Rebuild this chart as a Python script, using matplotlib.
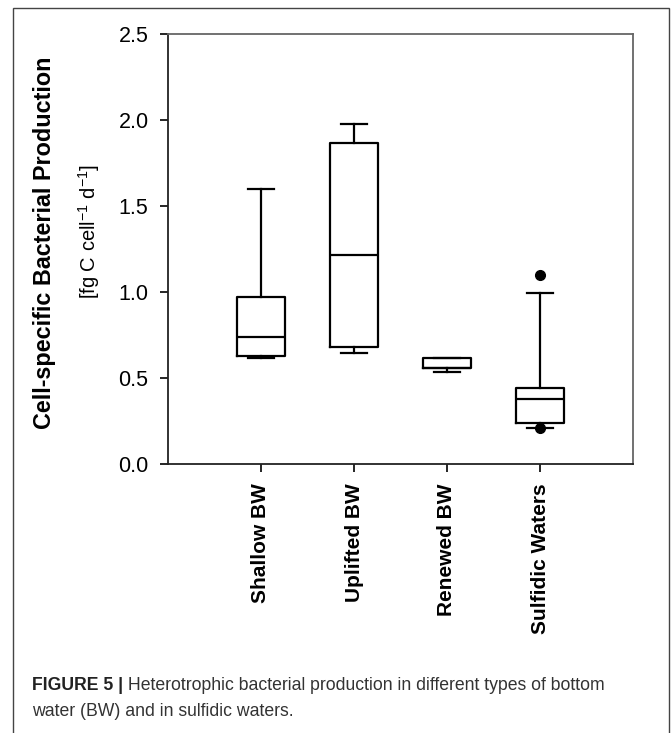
import matplotlib
matplotlib.use('Agg')
import matplotlib.pyplot as plt
from matplotlib.patches import Rectangle

# box plot summary values (10th/90th percentile whiskers, SigmaPlot style)
groups = ['Shallow BW', 'Uplifted BW', 'Renewed BW', 'Sulfidic Waters']
whis_lo = [0.614, 0.647, 0.533, 0.211]
q1 = [0.626, 0.678, 0.560, 0.237]
medians = [0.738, 1.213, 0.560, 0.378]
q3 = [0.971, 1.868, 0.614, 0.444]
whis_hi = [1.597, 1.978, 0.614, 0.996]
outliers = [[], [], [], [0.207, 1.097]]

y_ticks = [0.0, 0.5, 1.0, 1.5, 2.0, 2.5]

plt.rcParams['font.family'] = ['Liberation Sans', 'DejaVu Sans']

W, H, DPI = 672, 733, 100
fig = plt.figure(figsize=(W / DPI, H / DPI), dpi=DPI)
ax = fig.add_axes([168 / W, 1 - 464 / H, (633 - 168) / W, (464 - 34) / H])

stats = []
for i in range(len(groups)):
    stats.append({'label': groups[i], 'whislo': whis_lo[i], 'q1': q1[i],
                  'med': medians[i], 'q3': q3[i], 'whishi': whis_hi[i],
                  'fliers': outliers[i]})

lw = 1.6
ax.bxp(stats, positions=[1, 2, 3, 4], widths=0.51, capwidths=0.28,
       boxprops=dict(color='black', linewidth=lw),
       medianprops=dict(color='black', linewidth=lw),
       whiskerprops=dict(color='black', linewidth=lw),
       capprops=dict(color='black', linewidth=lw),
       flierprops=dict(marker='o', markerfacecolor='black',
                       markeredgecolor='black', markersize=7))

ax.set_xlim(0, 5)
ax.set_ylim(0, 2.5)
ax.set_yticks(y_ticks)
ax.set_yticklabels([f'{v:.1f}' for v in y_ticks], fontsize=15.5)
ax.set_xticks([1, 2, 3, 4])
ax.set_xticklabels(groups, rotation=90, fontsize=15, fontweight='bold')
ax.tick_params(axis='y', direction='out', length=6, width=1.2, pad=8)
ax.tick_params(axis='x', direction='out', length=6, width=1.2, pad=8)

for side in ['left', 'bottom']:
    ax.spines[side].set_color('#222222')
    ax.spines[side].set_linewidth(1.3)
for side in ['top', 'right']:
    ax.spines[side].set_color('#666666')
    ax.spines[side].set_linewidth(1.3)

# y axis label, two lines
fig.text(45 / W, 1 - 243 / H, 'Cell-specific Bacterial Production',
         rotation=90, ha='center', va='center', fontsize=16.8, fontweight='bold')
fig.text(89 / W, 1 - 232 / H, r'[fg C cell$^{\mathregular{-1}}$ d$^{\mathregular{-1}}$]',
         rotation=90, ha='center', va='center', fontsize=14.5)

# outer frame (open at the bottom)
fig.patches.append(Rectangle((13 / W, -0.05), (669 - 13) / W, 1.05 - 8 / H,
                             transform=fig.transFigure, fill=False,
                             edgecolor='#444444', linewidth=1.0))

# caption
t1 = fig.text(32 / W, 1 - 685 / H, 'FIGURE 5 |', fontsize=12.7,
              fontweight='bold', color='#222222', va='center')
fig.text(32 / W, 1 - 711 / H, 'water (BW) and in sulfidic waters.',
         fontsize=12.7, color='#333333', va='center')
ax.annotate(' Heterotrophic bacterial production in different types of bottom',
            xy=(1, 0), xycoords=t1, va='bottom', ha='left',
            fontsize=12.7, color='#333333', annotation_clip=False)

fig.savefig('out.png', dpi=DPI)
